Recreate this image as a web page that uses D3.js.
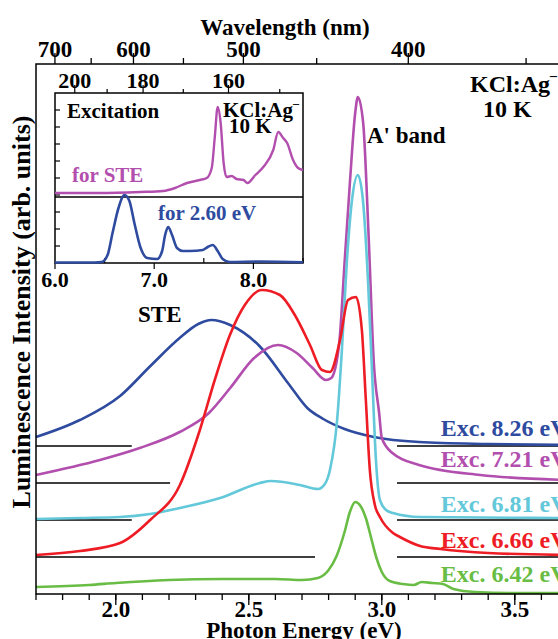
<!DOCTYPE html>
<html>
<head>
<meta charset="utf-8">
<script src="https://cdn.jsdelivr.net/npm/d3@7"></script>
<style>
  body { margin: 0; background: #fff; }
  svg { display: block; font-family: "Liberation Serif", "Times New Roman", serif; font-weight: bold; }
</style>
</head>
<body>
<svg width="558" height="639"></svg>
<script>
const svg = d3.select("svg");

// photon energy <-> wavelength
const HC = 1239.84;

// main spectra: [photon energy (eV), intensity above own baseline]
const exc826 = [[1.70, 9], [1.865, 26], [2.016, 50], [2.13, 80], [2.24, 108], [2.31, 122], [2.36, 126], [2.43, 121],
  [2.54, 100], [2.65, 62], [2.72, 38], [2.78, 27], [2.86, 17], [2.97, 9], [3.14, 4], [3.4, 2], [3.7, 1]];
const exc721 = [[1.70, 8], [1.94, 23], [2.09, 35], [2.24, 51], [2.35, 70], [2.43, 95], [2.52, 125], [2.61, 138],
  [2.68, 130], [2.74, 115], [2.79, 103], [2.81, 105], [2.84, 140], [2.86, 220], [2.88, 300], [2.90, 370],
  [2.91, 386], [2.93, 360], [2.95, 250], [2.97, 120], [2.99, 70], [3.0, 45], [3.04, 30], [3.14, 18],
  [3.37, 8], [3.7, 3]];
const exc681 = [[1.70, 1], [1.865, 2], [2.016, 3], [2.129, 6], [2.241, 12], [2.392, 22], [2.542, 37], [2.583, 39],
  [2.692, 35], [2.76, 31], [2.786, 36], [2.805, 50], [2.832, 100], [2.85, 170], [2.869, 260], [2.888, 320],
  [2.91, 345], [2.929, 320], [2.948, 240], [2.963, 150], [2.978, 60], [2.993, 20], [3.016, 10], [3.042, 7],
  [3.144, 3], [3.7, 2]];
const exc666 = [[1.70, 2], [1.865, 6], [2.016, 14], [2.129, 37], [2.241, 72], [2.316, 127], [2.372, 177],
  [2.429, 222], [2.485, 252], [2.549, 267], [2.617, 262], [2.673, 242], [2.73, 212], [2.775, 187], [2.805, 185],
  [2.843, 217], [2.873, 257], [2.903, 260], [2.925, 227], [2.94, 157], [2.955, 87], [2.974, 52], [2.993, 40],
  [3.042, 24], [3.068, 20], [3.144, 11], [3.22, 8], [3.4, 4], [3.7, 2]];
const exc642 = [[1.70, 7], [1.9, 9], [2.0, 11], [2.2, 14], [2.4, 15], [2.6, 15], [2.7, 14], [2.76, 16], [2.80, 24],
  [2.83, 38], [2.86, 62], [2.88, 82], [2.90, 92], [2.92, 88], [2.94, 76], [2.96, 56], [2.98, 36], [3.0, 22],
  [3.03, 13], [3.08, 10], [3.12, 9], [3.15, 12], [3.19, 11], [3.23, 10], [3.27, 5], [3.35, 2], [3.5, 1], [3.7, 1]];

const seriesData = [exc826, exc721, exc681, exc666, exc642];
const seriesLabels = ["Exc. 8.26 eV", "Exc. 7.21 eV", "Exc. 6.81 eV", "Exc. 6.66 eV", "Exc. 6.42 eV"];
const seriesOffsets = [148, 111, 74, 37, 0];
const seriesLabelOffsets = [158, 127, 82, 46, 12];

// zero lines drawn for each offset spectrum [start eV, end eV]
const zeroLeft = [[1.7, 2.06], [1.7, 2.204], [1.7, 2.06], [1.7, 2.749]];
const zeroRight = [3.057, 3.7];

// axis ticks
const energyMinor = d3.range(17, 38).map(d => d / 10);
const energyMajor = [2.0, 2.5, 3.0, 3.5];
const wlMinor = [700, 650, 600, 550, 500, 450, 400, 350];
const wlMajor = [700, 600, 500, 400];

// inset excitation spectra: [excitation energy (eV), intensity]
const forSTE = [[6.0, 70], [6.45, 70], [6.86, 71], [7.09, 72], [7.21, 75], [7.33, 80], [7.46, 83], [7.53, 85],
  [7.58, 95], [7.61, 125], [7.64, 156], [7.67, 140], [7.70, 100], [7.73, 86], [7.78, 87], [7.83, 84], [7.90, 83],
  [7.94, 80], [8.02, 88], [8.10, 96], [8.20, 113], [8.25, 131], [8.30, 125], [8.34, 120], [8.40, 103],
  [8.45, 95], [8.50, 93]];
const for260 = [[6.0, 0.5], [6.40, 0.5], [6.47, 1], [6.53, 8], [6.58, 30], [6.64, 55], [6.70, 68], [6.75, 62],
  [6.80, 40], [6.86, 16], [6.93, 5], [7.03, 4], [7.08, 12], [7.11, 28], [7.14, 36], [7.18, 28], [7.23, 15],
  [7.29, 12], [7.36, 12], [7.49, 13], [7.54, 16], [7.59, 18], [7.64, 12], [7.69, 4], [7.76, 1], [8.07, 1.5],
  [8.5, 0.8]];
const insetMajor = [6.0, 7.0, 8.0];
const insetMinor = [6.0, 6.5, 7.0, 7.5, 8.0, 8.5];
const insetWlMinor = [200, 190, 180, 170, 160, 150];
const insetWlMajor = [200, 180, 160];
const insetYTicks = d3.range(17, 170, 17);

// colours
const colors = ["#2e4b9f", "#b24fae", "#63c8d9", "#ee1c24", "#69bd45"];

// scales
const x = d3.scaleLinear().domain([1.7, 3.7]).range([36, 568]);
const y = d3.scaleLinear().domain([0, 530]).range([594, 64]);
const xi = d3.scaleLinear().domain([6.0, 8.5]).range([55, 303]);
const yi = d3.scaleLinear().domain([0, 170]).range([263, 93]);

// zero lines
const zeroG = svg.append("g").attr("stroke", "#000").attr("stroke-width", 1.4);
seriesOffsets.slice(0, 4).forEach((off, i) => {
  zeroG.append("line")
    .attr("x1", x(zeroLeft[i][0])).attr("x2", x(zeroLeft[i][1]))
    .attr("y1", y(off)).attr("y2", y(off));
  zeroG.append("line")
    .attr("x1", x(zeroRight[0])).attr("x2", x(zeroRight[1]))
    .attr("y1", y(off)).attr("y2", y(off));
});

// spectra
seriesData.forEach((data, i) => {
  const line = d3.line()
    .x(d => x(d[0]))
    .y(d => y(d[1] + seriesOffsets[i]))
    .curve(d3.curveMonotoneX);
  svg.append("path")
    .datum(data)
    .attr("d", line)
    .attr("fill", "none")
    .attr("stroke", colors[i])
    .attr("stroke-width", 2.6)
    .attr("stroke-linejoin", "round");
});

// frame
svg.append("rect")
  .attr("x", x(1.7)).attr("y", y(530))
  .attr("width", x(3.7) - x(1.7)).attr("height", y(0) - y(530))
  .attr("fill", "none").attr("stroke", "#000").attr("stroke-width", 1.5);

// bottom axis
const bottomAxis = svg.append("g").attr("transform", `translate(0,${y(0)})`);
bottomAxis.selectAll(".minor").data(energyMinor).enter().append("line")
  .attr("x1", d => x(d)).attr("x2", d => x(d))
  .attr("y1", 0).attr("y2", 6)
  .attr("stroke", "#000").attr("stroke-width", 1.3);
bottomAxis.selectAll(".major").data(energyMajor).enter().append("line")
  .attr("x1", d => x(d)).attr("x2", d => x(d))
  .attr("y1", 0).attr("y2", 11)
  .attr("stroke", "#000").attr("stroke-width", 1.3);
bottomAxis.selectAll("text").data(energyMajor).enter().append("text")
  .attr("x", d => x(d)).attr("y", 23)
  .attr("text-anchor", "middle").attr("font-size", 23)
  .text(d => d.toFixed(1));

svg.append("text")
  .attr("x", 304).attr("y", 638)
  .attr("text-anchor", "middle").attr("font-size", 23)
  .text("Photon Energy (eV)");

// top wavelength axis
const topAxis = svg.append("g").attr("transform", `translate(0,${y(530)})`);
topAxis.selectAll(".minor").data(wlMinor).enter().append("line")
  .attr("x1", d => x(HC / d)).attr("x2", d => x(HC / d))
  .attr("y1", 0).attr("y2", d => wlMajor.includes(d) ? -11 : -6)
  .attr("stroke", "#000").attr("stroke-width", 1.3);
topAxis.selectAll("text").data(wlMajor).enter().append("text")
  .attr("x", d => x(HC / d)).attr("y", -7)
  .attr("text-anchor", "middle").attr("font-size", 23)
  .text(d => d);

svg.append("text")
  .attr("x", 285).attr("y", 35)
  .attr("text-anchor", "middle").attr("font-size", 23)
  .text("Wavelength (nm)");

// y title
svg.append("text")
  .attr("transform", "translate(30,312) rotate(-90)")
  .attr("text-anchor", "middle").attr("font-size", 26)
  .text("Luminescence Intensity (arb. units)");

// series labels
seriesLabels.forEach((t, i) => {
  svg.append("text")
    .attr("x", x(3.222)).attr("y", y(seriesLabelOffsets[i]))
    .attr("font-size", 24)
    .attr("fill", colors[i])
    .text(t);
});

// annotations
svg.append("text").attr("x", 367).attr("y", 143).attr("font-size", 23).text("A' band");
svg.append("text").attr("x", 138).attr("y", 322).attr("font-size", 23).text("STE");
const kcl = svg.append("text").attr("x", 470).attr("y", 92).attr("font-size", 24);
kcl.append("tspan").text("KCl:Ag");
kcl.append("tspan").attr("font-size", 14).attr("dy", -12).text("\u2013");
svg.append("text").attr("x", 483).attr("y", 117).attr("font-size", 24).text("10 K");

// inset
const inset = svg.append("g");
inset.append("rect")
  .attr("x", xi(6.0)).attr("y", yi(170))
  .attr("width", xi(8.5) - xi(6.0)).attr("height", yi(0) - yi(170))
  .attr("fill", "#fff").attr("stroke", "#000").attr("stroke-width", 1.5);
inset.append("line")
  .attr("x1", xi(6.0)).attr("x2", xi(8.5))
  .attr("y1", yi(66)).attr("y2", yi(66))
  .attr("stroke", "#000").attr("stroke-width", 1.4);

inset.selectAll(".yt").data(insetYTicks).enter().append("line")
  .attr("x1", xi(6.0)).attr("x2", xi(6.0) + 5)
  .attr("y1", d => yi(d)).attr("y2", d => yi(d))
  .attr("stroke", "#000").attr("stroke-width", 1.2);
inset.selectAll(".xt").data(insetMinor).enter().append("line")
  .attr("x1", d => xi(d)).attr("x2", d => xi(d))
  .attr("y1", yi(0)).attr("y2", d => insetMajor.includes(d) ? yi(0) + 6 : yi(0) - 5)
  .attr("stroke", "#000").attr("stroke-width", 1.2);
inset.selectAll(".xi").data(insetMajor).enter().append("text")
  .attr("x", d => xi(d)).attr("y", yi(0) + 24)
  .attr("text-anchor", "middle").attr("font-size", 22)
  .text(d => d.toFixed(1));
inset.selectAll(".wt").data(insetWlMinor).enter().append("line")
  .attr("x1", d => xi(HC / d)).attr("x2", d => xi(HC / d))
  .attr("y1", yi(170)).attr("y2", d => insetWlMajor.includes(d) ? yi(170) - 8 : yi(170) - 4)
  .attr("stroke", "#000").attr("stroke-width", 1.2);
inset.selectAll(".wl").data(insetWlMajor).enter().append("text")
  .attr("x", d => xi(HC / d)).attr("y", yi(170) - 5)
  .attr("text-anchor", "middle").attr("font-size", 22)
  .text(d => d);

const insetLine = d3.line().x(d => xi(d[0])).y(d => yi(d[1])).curve(d3.curveMonotoneX);
inset.append("path").datum(forSTE).attr("d", insetLine)
  .attr("fill", "none").attr("stroke", colors[1]).attr("stroke-width", 2.4);
inset.append("path").datum(for260).attr("d", insetLine)
  .attr("fill", "none").attr("stroke", colors[0]).attr("stroke-width", 2.6);

inset.append("text").attr("x", 67).attr("y", 118).attr("font-size", 21).text("Excitation");
const kcl2 = inset.append("text").attr("x", 223).attr("y", 117).attr("font-size", 21);
kcl2.append("tspan").text("KCl:Ag");
kcl2.append("tspan").attr("font-size", 12).attr("dy", -10).text("\u2013");
inset.append("text").attr("x", 229).attr("y", 133).attr("font-size", 21).text("10 K");
inset.append("text").attr("x", 72).attr("y", 182).attr("font-size", 21).attr("fill", colors[1]).text("for STE");
inset.append("text").attr("x", 158).attr("y", 220).attr("font-size", 21).attr("fill", colors[0]).text("for 2.60 eV");
</script>
</body>
</html>
